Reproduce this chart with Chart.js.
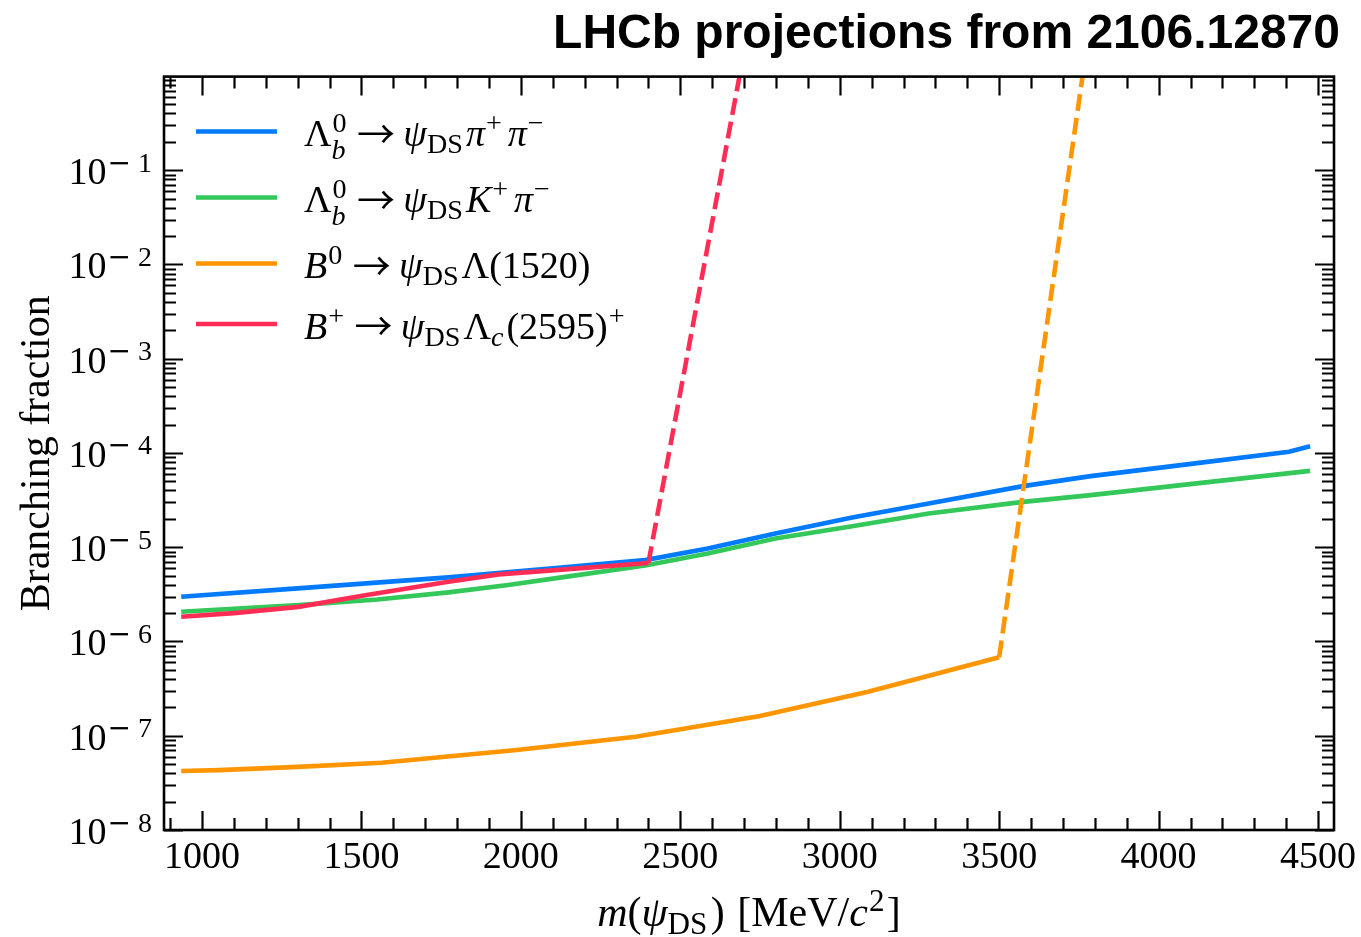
<!DOCTYPE html>
<html>
<head>
<meta charset="utf-8">
<script src="https://cdn.jsdelivr.net/npm/chart.js@4.4.1/dist/chart.umd.min.js"></script>
<style>
  html, body { margin: 0; padding: 0; background: #ffffff; }
  #wrap { width: 1361px; height: 937px; }
</style>
</head>
<body>
<div id="wrap"><canvas id="chart" width="1361" height="937"></canvas></div>
<script>
// ---- Data: mass of psi_DS [MeV/c^2] and projected branching fractions ----
const lbPiPiMass = [935, 1300, 1773, 2100, 2390, 2586, 2798, 3039, 3279, 3575, 3787, 4070, 4409, 4475];
const lbPiPiBF   = [2.98e-6, 3.66e-6, 4.79e-6, 5.98e-6, 7.3e-6, 9.7e-6, 1.40e-5, 2.07e-5, 2.91e-5, 4.45e-5, 5.68e-5, 7.43e-5, 1.03e-4, 1.18e-4];

const lbKPiMass = [935, 1303, 1550, 1773, 1960, 2139, 2390, 2586, 2798, 3039, 3279, 3575, 3787, 4070, 4475];
const lbKPiBF   = [2.07e-6, 2.43e-6, 2.79e-6, 3.32e-6, 3.98e-6, 4.85e-6, 6.4e-6, 8.6e-6, 1.24e-5, 1.67e-5, 2.28e-5, 3.03e-5, 3.57e-5, 4.56e-5, 6.46e-5];

const b0Mass = [935, 1054, 1300, 1563, 1987, 2360, 2750, 3089, 3500, 3800];
const b0BF   = [4.23e-8, 4.32e-8, 4.68e-8, 5.18e-8, 7.05e-8, 9.75e-8, 1.62e-7, 2.93e-7, 6.8e-7, 8.0];
const b0DashFrom = 3500;   // beyond this mass the line is dashed

const bPlusMass = [935, 1100, 1303, 1512, 1773, 1930, 2139, 2400, 2700];
const bPlusBF   = [1.83e-6, 2.0e-6, 2.33e-6, 3.1e-6, 4.3e-6, 5.15e-6, 5.82e-6, 6.8e-6, 1.8];
const bPlusDashFrom = 2400;

// ---- Axis ticks ----
const xTickValues = [1000, 1500, 2000, 2500, 3000, 3500, 4000, 4500];
const xTickLabels = ['1000', '1500', '2000', '2500', '3000', '3500', '4000', '4500'];
const yTickValues = [1e-8, 1e-7, 1e-6, 1e-5, 1e-4, 1e-3, 1e-2, 1e-1];
const yTickExponents = ['8', '7', '6', '5', '4', '3', '2', '1'];

// ---- Legend labels as math-style text runs ----
const SP = 0.22;
const ARROW = { t: '→', f: 'arrow' };
const PI = { t: 'π', it: true };
const channelLabels = [
  [{t:'Λ'}, {sup:'0', sub:'b', subIt:true}, {sp:SP}, ARROW, {sp:SP}, {t:'ψ', it:true}, {sub:'DS'},
   PI, {sup:'+'}, {sp:0.1}, PI, {sup:'−'}],
  [{t:'Λ'}, {sup:'0', sub:'b', subIt:true}, {sp:SP}, ARROW, {sp:SP}, {t:'ψ', it:true}, {sub:'DS'},
   {t:'K', it:true}, {sup:'+'}, {sp:0.1}, PI, {sup:'−'}],
  [{t:'B', it:true}, {sup:'0'}, {sp:SP}, ARROW, {sp:SP}, {t:'ψ', it:true}, {sub:'DS'}, {t:'Λ(1520)'}],
  [{t:'B', it:true}, {sup:'+'}, {sp:SP}, ARROW, {sp:SP}, {t:'ψ', it:true}, {sub:'DS'},
   {t:'Λ'}, {sub:'c', subIt:true}, {t:'(2595)'}, {sup:'+'}]
];
const xAxisTitle = [{t:'m', it:true}, {t:'('}, {t:'ψ', it:true}, {sub:'DS'}, {t:')'}, {sp:0.3},
                    {t:'[MeV/'}, {t:'c', it:true}, {sup:'2'}, {t:']'}];

const SERIF = "'Liberation Serif', 'DejaVu Serif', serif";
const FAMILIES = { serif: SERIF, arrow: "'Noto Sans CJK JP', 'DejaVu Sans', sans-serif", sans: "'DejaVu Sans', sans-serif" };
const pts = (xs, ys) => xs.map((x, i) => ({ x: x, y: ys[i] }));
const dashAfter = (m) => (ctx) => (ctx.p0.parsed.x >= m ? [17, 7] : undefined);

// ---- Rich text (italic, sub- and superscripts) ----
function fontFor(size, it, fam) { return (it ? 'italic ' : '') + size + 'px ' + FAMILIES[fam || 'serif']; }
function layoutRich(ctx, parts, size) {
  const ss = size * 0.74;
  let w = 0;
  const items = parts.map(p => {
    let width = 0;
    if (p.sp !== undefined) width = p.sp * size;
    else if (p.t !== undefined) { ctx.font = fontFor(size, p.it, p.f); width = ctx.measureText(p.t).width; }
    else {
      let a = 0, b = 0;
      if (p.sup !== undefined) { ctx.font = fontFor(ss, p.supIt); a = ctx.measureText(p.sup).width; }
      if (p.sub !== undefined) { ctx.font = fontFor(ss, p.subIt); b = ctx.measureText(p.sub).width; }
      width = Math.max(a, b) + size * 0.08;
    }
    const it = { p: p, x: w, width: width };
    w += width;
    return it;
  });
  return { items: items, width: w };
}
function drawRich(ctx, parts, x, baseline, size, align) {
  const lay = layoutRich(ctx, parts, size);
  let x0 = x;
  if (align === 'center') x0 = x - lay.width / 2;
  else if (align === 'right') x0 = x - lay.width;
  const ss = size * 0.74;
  ctx.save();
  ctx.fillStyle = '#000';
  ctx.textAlign = 'left';
  ctx.textBaseline = 'alphabetic';
  lay.items.forEach(item => {
    const p = item.p, px = x0 + item.x;
    if (p.t !== undefined) {
      ctx.font = fontFor(size, p.it, p.f);
      ctx.fillText(p.t, px, baseline + (p.f === 'arrow' ? size * 0.04 : 0));
    }
    const both = p.sup !== undefined && p.sub !== undefined;
    if (p.sup !== undefined) { ctx.font = fontFor(ss, p.supIt); ctx.fillText(p.sup, px + 1, baseline - size * 0.36); }
    if (p.sub !== undefined) { ctx.font = fontFor(ss, p.subIt); ctx.fillText(p.sub, px, baseline + size * (both ? 0.34 : 0.19)); }
  });
  ctx.restore();
  return lay.width;
}

// ---- Frame with inward ticks on all four sides, tick labels, axis title, legend ----
const frameTicks = {
  id: 'frameTicks',
  afterDraw(chart) {
    const { ctx, chartArea: a, scales: { x, y } } = chart;
    const MAJ = 19, MIN = 12;
    ctx.save();
    ctx.strokeStyle = '#000';
    ctx.lineWidth = 2.2;
    ctx.beginPath();
    for (let v = Math.ceil(x.min / 100) * 100; v <= x.max; v += 100) {
      const px = Math.round(x.getPixelForValue(v)) + 0.5;
      const len = v % 500 === 0 ? MAJ : MIN;
      ctx.moveTo(px, a.bottom); ctx.lineTo(px, a.bottom - len);
      ctx.moveTo(px, a.top); ctx.lineTo(px, a.top + len);
    }
    for (let e = -9; e <= 0; e++) {
      for (let k = 1; k <= 9; k++) {
        const v = k * Math.pow(10, e);
        if (v < y.min * 0.9999 || v > y.max) continue;
        const py = Math.round(y.getPixelForValue(v)) + 0.5;
        const len = k === 1 ? MAJ : MIN;
        ctx.moveTo(a.left, py); ctx.lineTo(a.left + len, py);
        ctx.moveTo(a.right, py); ctx.lineTo(a.right - len, py);
      }
    }
    ctx.stroke();
    ctx.lineWidth = 2.6;
    ctx.strokeRect(a.left, a.top, a.right - a.left, a.bottom - a.top);
    ctx.restore();

    // y tick labels: 10 with a raised exponent
    const base = 38, sup = 28;
    ctx.save();
    ctx.fillStyle = '#000';
    ctx.textBaseline = 'alphabetic';
    ctx.textAlign = 'right';
    y.ticks.forEach((t, i) => {
      const py = y.getPixelForValue(t.value);
      let xr = a.left - 12;
      ctx.font = sup + 'px ' + SERIF;
      ctx.fillText(yTickExponents[i], xr, py + 1.5);
      xr -= ctx.measureText(yTickExponents[i]).width + 7;
      ctx.font = sup + 'px ' + FAMILIES.sans;
      ctx.fillText('−', xr, py + 1.5);
      xr -= ctx.measureText('−').width + 1;
      ctx.font = base + 'px ' + SERIF;
      ctx.fillText('10', xr, py + 14);
    });
    ctx.restore();

    // x axis title
    drawRich(ctx, xAxisTitle, (a.left + a.right) / 2, 926, 42, 'center');

    // legend
    const rows = [131.5, 197.5, 263.5, 324];
    chart.data.datasets.forEach((ds, i) => {
      const ry = rows[i];
      ctx.save();
      ctx.strokeStyle = ds.borderColor;
      ctx.lineWidth = 4.5;
      ctx.beginPath();
      ctx.moveTo(196, ry); ctx.lineTo(277, ry);
      ctx.stroke();
      ctx.restore();
      drawRich(ctx, channelLabels[i], 304, ry + 14.5, 38, 'left');
    });
  }
};

new Chart(document.getElementById('chart'), {
  type: 'line',
  data: {
    datasets: [
      { label: 'Λb0 → ψDS π+ π−', data: pts(lbPiPiMass, lbPiPiBF), borderColor: '#007aff', order: 4 },
      { label: 'Λb0 → ψDS K+ π−', data: pts(lbKPiMass, lbKPiBF), borderColor: '#34c759', order: 3 },
      { label: 'B0 → ψDS Λ(1520)', data: pts(b0Mass, b0BF), borderColor: '#ff9500', order: 2,
        segment: { borderDash: dashAfter(b0DashFrom) } },
      { label: 'B+ → ψDS Λc(2595)+', data: pts(bPlusMass, bPlusBF), borderColor: '#ff2d55', order: 1,
        segment: { borderDash: dashAfter(bPlusDashFrom) } }
    ]
  },
  options: {
    responsive: false,
    animation: false,
    devicePixelRatio: 1,
    layout: { padding: { left: 0, right: 21, top: 0, bottom: 0 } },
    elements: {
      line: { borderWidth: 4.6, tension: 0, fill: false, borderCapStyle: 'butt' },
      point: { radius: 0, hoverRadius: 0 }
    },
    plugins: {
      legend: { display: false },
      tooltip: { enabled: false },
      title: {
        display: true,
        text: 'LHCb projections from 2106.12870',
        align: 'end',
        color: '#000',
        font: { family: "'Liberation Sans', Arial, sans-serif", weight: 'bold', size: 48, lineHeight: 1.2 },
        padding: { top: 6, bottom: 13 }
      }
    },
    scales: {
      x: {
        type: 'linear',
        min: 881,
        max: 4550,
        grid: { display: false, drawTicks: false },
        border: { display: false },
        afterBuildTicks: (s) => { s.ticks = xTickValues.map(v => ({ value: v })); },
        afterFit: (s) => { s.height = 107; s.paddingLeft = 0; s.paddingRight = 27; },
        ticks: {
          autoSkip: false, maxRotation: 0, padding: 5, color: '#000',
          font: { family: SERIF, size: 38 },
          callback: (v, i) => xTickLabels[i]
        }
      },
      y: {
        type: 'logarithmic',
        min: 1e-8,
        max: 0.985,
        grid: { display: false, drawTicks: false },
        border: { display: false },
        afterBuildTicks: (s) => { s.ticks = yTickValues.map(v => ({ value: v })); },
        afterFit: (s) => { s.width = 164; },
        ticks: { display: false },
        title: {
          display: true,
          text: 'Branching fraction',
          color: '#000',
          font: { family: SERIF, size: 42, lineHeight: 1.2 },
          padding: { top: 13, bottom: 0 }
        }
      }
    }
  },
  plugins: [frameTicks]
});
</script>
</body>
</html>
